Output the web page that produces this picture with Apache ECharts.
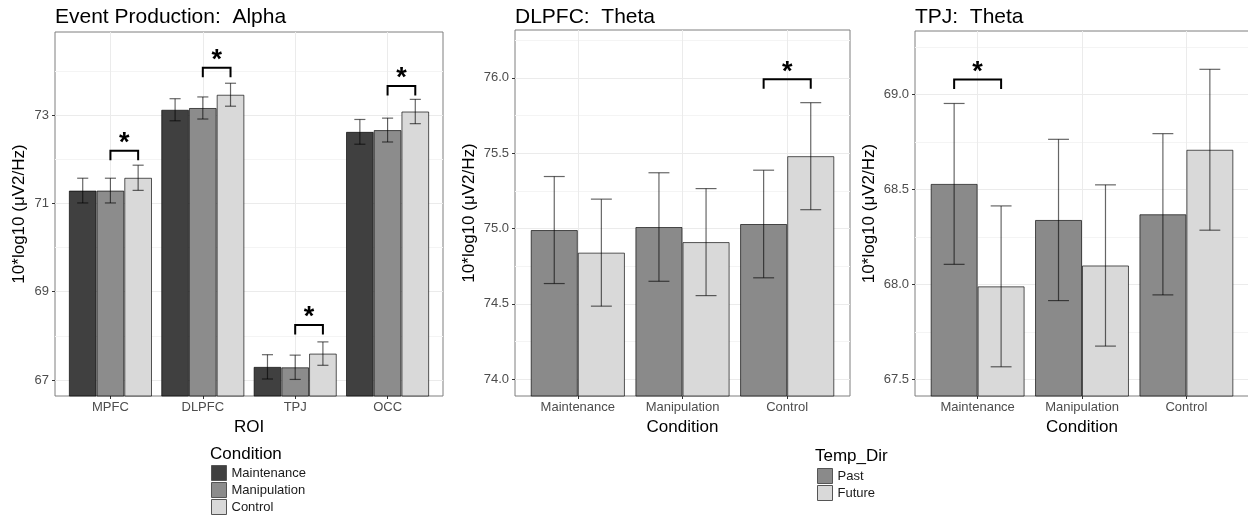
<!DOCTYPE html>
<html>
<head>
<meta charset="utf-8">
<title></title>
<style>
  html, body { margin: 0; padding: 0; background: #fff; }
  #wrap { width: 1248px; height: 516px; }
</style>
<script src="https://cdn.jsdelivr.net/npm/echarts@6/dist/echarts.min.js"></script>
</head>
<body>
<div id="wrap"></div>
<script>
// panel 1: Event Production, alpha power by ROI
var rois = ['MPFC', 'DLPFC', 'TPJ', 'OCC'];
var conditions = ['Maintenance', 'Manipulation', 'Control'];
var alphaMaint = [71.29, 73.12, 67.30, 72.62];
var alphaManip = [71.29, 73.16, 67.29, 72.66];
var alphaCtrl = [71.58, 73.46, 67.60, 73.08];
var alphaMaintSe = [0.28, 0.25, 0.275, 0.28];
var alphaManipSe = [0.28, 0.25, 0.275, 0.27];
var alphaCtrlSe = [0.285, 0.26, 0.265, 0.275];
var alphaStarTop = [72.19, 74.07, 68.25, 73.66]; // Manipulation vs Control

// panels 2 and 3: theta, Past vs Future per condition
var tempDirs = ['Past', 'Future'];
var dlpfcPast = [74.99, 75.01, 75.03];
var dlpfcFuture = [74.84, 74.91, 75.48];
var dlpfcPastSe = [0.355, 0.36, 0.357];
var dlpfcFutureSe = [0.355, 0.355, 0.355];
var tpjPast = [68.53, 68.34, 68.37];
var tpjFuture = [67.99, 68.10, 68.71];
var tpjPastSe = [0.424, 0.425, 0.425];
var tpjFutureSe = [0.424, 0.425, 0.424];
var dlpfcStar = [3, 75.99]; // [condition no., bracket top]
var tpjStar = [1, 69.08];

var alphaTicks = [67, 69, 71, 73];
var alphaMinor = [68, 70, 72, 74];
var dlpfcTicks = [74.0, 74.5, 75.0, 75.5, 76.0];
var dlpfcMinor = [74.25, 74.75, 75.25, 75.75, 76.25];
var tpjTicks = [67.5, 68.0, 68.5, 69.0];
var tpjMinor = [67.75, 68.25, 68.75, 69.25];

var FONT = '"Liberation Sans", Arial, sans-serif';
var YNAME = '10*log10 (\u03bcV2/Hz)';

function catAxis(grid, names, title) {
  var pos = names.map(function (n, i) { return i + 1; });
  return {
    type: 'value', gridIndex: grid, min: 0.4, max: names.length + 0.6,
    name: title, nameLocation: 'middle', nameGap: 22,
    nameTextStyle: { fontSize: 17, color: '#000' },
    axisLine: { show: false },
    axisTick: { customValues: pos, length: 3, lineStyle: { color: '#333' } },
    axisLabel: {
      customValues: pos, margin: 5, fontSize: 13, color: '#4d4d4d',
      formatter: function (v) { return names[Math.round(v) - 1]; }
    },
    splitLine: { show: true, lineStyle: { color: '#ebebeb' } }
  };
}

function valAxes(grid, lo, hi, ticks, minor, digits, gap) {
  return [{
    type: 'value', gridIndex: grid, min: lo, max: hi,
    name: YNAME, nameLocation: 'middle', nameGap: gap,
    nameTextStyle: { fontSize: 17, color: '#000' },
    axisLine: { show: false },
    axisTick: { customValues: ticks, length: 3, lineStyle: { color: '#333' } },
    axisLabel: {
      customValues: ticks, margin: 6, fontSize: 13, color: '#4d4d4d',
      formatter: function (v) { return v.toFixed(digits); }
    },
    splitLine: { show: true, lineStyle: { color: '#ebebeb' } }
  }, {
    type: 'value', gridIndex: grid, min: lo, max: hi, position: 'right',
    axisLine: { show: false }, axisLabel: { show: false },
    axisTick: { show: false, customValues: minor },
    splitLine: { show: true, lineStyle: { color: '#f4f4f4' } }
  }];
}

function barSeries(name, grid, means, color) {
  return {
    type: 'bar', name: name, xAxisIndex: grid, yAxisIndex: grid * 2,
    data: means.map(function (m, i) { return [i + 1, m]; }),
    barGap: '0%', barCategoryGap: '10%', silent: true,
    itemStyle: { color: color, borderColor: 'rgba(0,0,0,0.65)', borderWidth: 1 }
  };
}

function errorSeries(grid, means, ses, offset, half) {
  return {
    type: 'custom', xAxisIndex: grid, yAxisIndex: grid * 2, z: 5, silent: true,
    data: means.map(function (m, i) { return [i + 1 + offset, m - ses[i], m + ses[i]]; }),
    renderItem: function (params, api) {
      var x = api.value(0);
      var lo = api.coord([x, api.value(1)]);
      var hi = api.coord([x, api.value(2)]);
      var l = api.coord([x - half, api.value(2)])[0];
      var r = api.coord([x + half, api.value(2)])[0];
      var st = { stroke: 'rgba(0,0,0,0.6)', lineWidth: 1.2 };
      return { type: 'group', children: [
        { type: 'line', shape: { x1: hi[0], y1: hi[1], x2: lo[0], y2: lo[1] }, style: st },
        { type: 'line', shape: { x1: l, y1: hi[1], x2: r, y2: hi[1] }, style: st },
        { type: 'line', shape: { x1: l, y1: lo[1], x2: r, y2: lo[1] }, style: st }
      ] };
    }
  };
}

function bracketSeries(grid, brackets) {
  return {
    type: 'custom', xAxisIndex: grid, yAxisIndex: grid * 2, z: 6, silent: true,
    data: brackets,
    renderItem: function (params, api) {
      var a = api.coord([api.value(0), api.value(2)]);
      var b = api.coord([api.value(1), api.value(2)]);
      var leg = 9.5;
      return { type: 'group', children: [
        { type: 'polyline',
          shape: { points: [[a[0], a[1] + leg], [a[0], a[1]], [b[0], b[1]], [b[0], b[1] + leg]] },
          style: { stroke: '#000', lineWidth: 2, fill: null } },
        { type: 'text', x: (a[0] + b[0]) / 2, y: a[1] - 7,
          style: { text: '*', fill: '#000', fontSize: 27, fontWeight: 'bold', fontFamily: FONT, align: 'center', verticalAlign: 'middle' } }
      ] };
    }
  };
}

var alphaBrackets = alphaStarTop.map(function (t, i) { return [i + 1, i + 1.3, t]; });
var dlpfcBrackets = [[dlpfcStar[0] - 0.225, dlpfcStar[0] + 0.225, dlpfcStar[1]]];
var tpjBrackets = [[tpjStar[0] - 0.225, tpjStar[0] + 0.225, tpjStar[1]]];

var chart = echarts.init(document.getElementById('wrap'));

var gridStyle = { show: true, borderColor: '#7f7f7f', borderWidth: 1, outerBoundsMode: 'none', containLabel: false };
var titleFont = { fontSize: 21, fontWeight: 'normal', color: '#000' };
var keyFont = { fontSize: 17, fontWeight: 'normal', color: '#000' };

var option = {
  animation: false,
  textStyle: { fontFamily: FONT },
  title: [
    { text: 'Event Production:  Alpha', left: 55, top: 7, padding: 0, textStyle: titleFont },
    { text: 'DLPFC:  Theta', left: 515, top: 7, padding: 0, textStyle: titleFont },
    { text: 'TPJ:  Theta', left: 915, top: 7, padding: 0, textStyle: titleFont },
    { text: 'Condition', left: 210, top: 446, padding: 0, textStyle: keyFont },
    { text: 'Temp_Dir', left: 815, top: 448, padding: 0, textStyle: keyFont }
  ],
  legend: [
    { data: conditions, left: 211, top: 465, orient: 'vertical', padding: 0, itemWidth: 15, itemHeight: 15, itemGap: 1,
      icon: 'rect', selectedMode: false, itemStyle: { borderColor: '#555', borderWidth: 1 },
      textStyle: { fontSize: 13, color: '#1a1a1a' } },
    { data: tempDirs, left: 817, top: 468, orient: 'vertical', padding: 0, itemWidth: 15, itemHeight: 15, itemGap: 1,
      icon: 'rect', selectedMode: false, itemStyle: { borderColor: '#555', borderWidth: 1 },
      textStyle: { fontSize: 13, color: '#1a1a1a' } }
  ],
  grid: [
    Object.assign({ left: 55, top: 32, width: 388, height: 364 }, gridStyle),
    Object.assign({ left: 515, top: 30, width: 335, height: 366 }, gridStyle),
    Object.assign({ left: 915, top: 31, width: 334, height: 365 }, gridStyle)
  ],
  xAxis: [
    catAxis(0, rois, 'ROI'),
    catAxis(1, conditions, 'Condition'),
    catAxis(2, conditions, 'Condition')
  ],
  yAxis: []
    .concat(valAxes(0, 66.64, 74.88, alphaTicks, alphaMinor, 0, 27))
    .concat(valAxes(1, 73.889, 76.317, dlpfcTicks, dlpfcMinor, 1, 37))
    .concat(valAxes(2, 67.412, 69.336, tpjTicks, tpjMinor, 1, 37)),
  series: [
    barSeries('Maintenance', 0, alphaMaint, '#404040'),
    barSeries('Manipulation', 0, alphaManip, '#8c8c8c'),
    barSeries('Control', 0, alphaCtrl, '#d9d9d9'),
    errorSeries(0, alphaMaint, alphaMaintSe, -0.3, 0.06),
    errorSeries(0, alphaManip, alphaManipSe, 0, 0.06),
    errorSeries(0, alphaCtrl, alphaCtrlSe, 0.3, 0.06),
    bracketSeries(0, alphaBrackets),

    barSeries('Past', 1, dlpfcPast, '#8a8a8a'),
    barSeries('Future', 1, dlpfcFuture, '#d9d9d9'),
    errorSeries(1, dlpfcPast, dlpfcPastSe, -0.225, 0.1),
    errorSeries(1, dlpfcFuture, dlpfcFutureSe, 0.225, 0.1),
    bracketSeries(1, dlpfcBrackets),

    barSeries('Past', 2, tpjPast, '#8a8a8a'),
    barSeries('Future', 2, tpjFuture, '#d9d9d9'),
    errorSeries(2, tpjPast, tpjPastSe, -0.225, 0.1),
    errorSeries(2, tpjFuture, tpjFutureSe, 0.225, 0.1),
    bracketSeries(2, tpjBrackets)
  ]
};

chart.setOption(option);
</script>
</body>
</html>
